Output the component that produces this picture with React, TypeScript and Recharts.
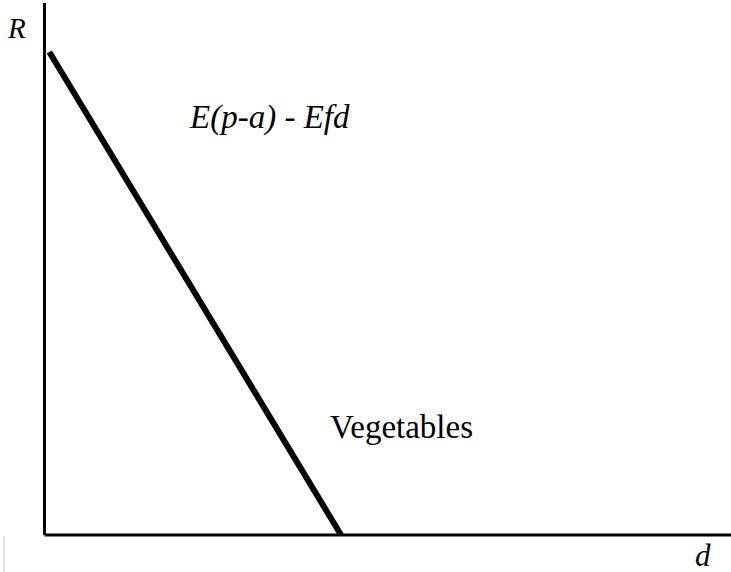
import React from 'react';
import { LineChart, Line, XAxis, YAxis, ReferenceDot, Label } from 'recharts';

// Straight-line relation between distance d and rent R
const distances = [0.7, 43.2];
const rents = [90.8, 0];

// Annotation anchors in data units
const formulaNote = { d: 21.2, R: 76.5, text: 'E(p-a) - Efd' };
const cropNote = { d: 41.6, R: 18.2, text: 'Vegetables' };

const data = distances.map((d, i) => ({ d, R: rents[i] }));

const textStyle = (italic: boolean, size = 33): React.CSSProperties => ({
  fontFamily: "'Liberation Serif', 'Times New Roman', serif",
  fontSize: size,
  fontStyle: italic ? 'italic' : 'normal',
});

const noteLabel = (text: string, italic: boolean) => (props: any) => {
  const { viewBox } = props;
  return (
    <text x={viewBox.x} y={viewBox.y} style={textStyle(italic)} fill="#000" textAnchor="start">
      {text}
    </text>
  );
};

const App: React.FC = () => {
  return (
    <div style={{ position: 'absolute', left: 0, top: 0, width: 731, height: 572, background: '#fff' }}>
      <LineChart width={731} height={572} data={data} margin={{ top: 3, right: 0, bottom: 0, left: 0 }}>
        <XAxis
          dataKey="d"
          type="number"
          domain={[0, 100]}
          allowDataOverflow
          tick={false}
          tickLine={false}
          height={37}
          axisLine={{ stroke: '#000', strokeWidth: 3 }}
        >
          <Label
            content={({ viewBox }: any) => (
              <text x={viewBox.x + viewBox.width - 36} y={viewBox.y + 31} style={textStyle(true, 31)} fill="#000">
                d
              </text>
            )}
          />
        </XAxis>
        <YAxis
          type="number"
          domain={[0, 100]}
          allowDataOverflow
          tick={false}
          tickLine={false}
          width={44.5}
          axisLine={{ stroke: '#000', strokeWidth: 3 }}
        >
          <Label
            content={({ viewBox }: any) => (
              <text x={viewBox.x + 8} y={viewBox.y + 35} style={textStyle(true, 29)} fill="#000">
                R
              </text>
            )}
          />
        </YAxis>
        <Line
          type="linear"
          dataKey="R"
          stroke="#000"
          strokeWidth={6}
          dot={false}
          activeDot={false}
          isAnimationActive={false}
        />
        <ReferenceDot x={formulaNote.d} y={formulaNote.R} r={0} stroke="none" ifOverflow="visible" label={noteLabel(formulaNote.text, true)} />
        <ReferenceDot x={cropNote.d} y={cropNote.R} r={0} stroke="none" ifOverflow="visible" label={noteLabel(cropNote.text, false)} />
      </LineChart>
      <div style={{ position: 'absolute', left: 3, top: 536, width: 2, height: 36, background: '#e2e2e2' }} />
    </div>
  );
};

export default App;
